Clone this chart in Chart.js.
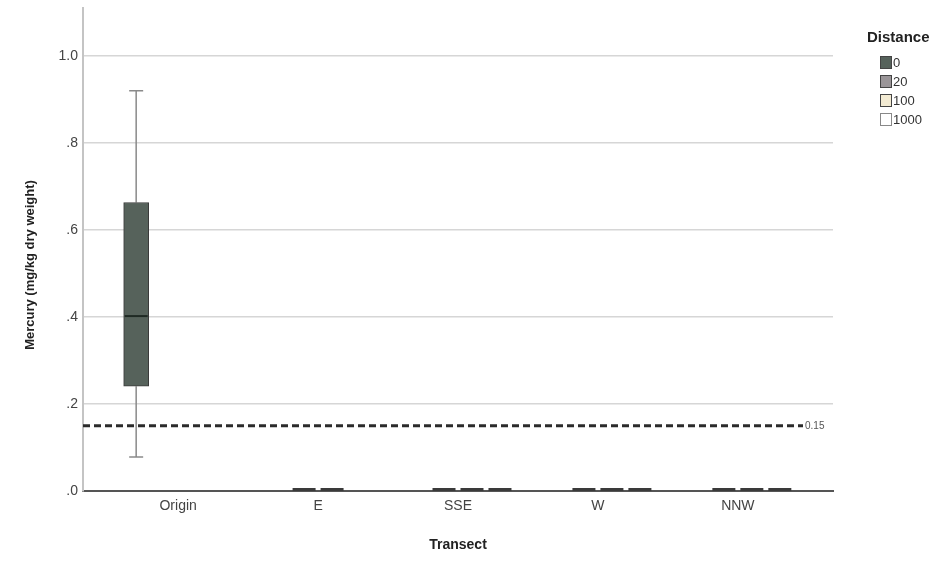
<!DOCTYPE html>
<html>
<head>
<meta charset="utf-8">
<script src="https://cdn.jsdelivr.net/npm/chart.js@4"></script>
<style>
  html, body { margin: 0; padding: 0; background: #fff; }
  #wrap { width: 944px; height: 563px; }
</style>
</head>
<body>
<div id="wrap"><canvas id="boxChart" width="944" height="563"></canvas></div>
<script>
// categories and series
const transects = ['Origin', 'E', 'SSE', 'W', 'NNW'];
const distances = ['0', '20', '100', '1000'];

// box stats per transect: [min, q1, median, q3, max], null = no data
const dist0 = [[0.078, 0.241, 0.402, 0.663, 0.920], null, null, null, null];
const dist20 = [null, [0, 0, 0, 0, 0], [0, 0, 0, 0, 0], [0, 0, 0, 0, 0], [0, 0, 0, 0, 0]];
const dist100 = [null, [0, 0, 0, 0, 0], [0, 0, 0, 0, 0], [0, 0, 0, 0, 0], [0, 0, 0, 0, 0]];
const dist1000 = [null, null, [0, 0, 0, 0, 0], [0, 0, 0, 0, 0], [0, 0, 0, 0, 0]];

// axis ticks and reference line
const yTickValues = [0, 0.2, 0.4, 0.6, 0.8, 1.0];
const yTickLabels = ['.0', '.2', '.4', '.6', '.8', '1.0'];
const refValue = 0.15;
const refLabel = '0.15';

// styling
const fills = ['#56625b', '#9a9598', '#f3ebd3', '#ffffff'];
const slotWidth = 0.2;

Chart.defaults.font.family = "'Liberation Sans', Arial, sans-serif";
Chart.defaults.color = '#444';

const seriesStats = [dist0, dist20, dist100, dist1000];

const datasets = seriesStats.map((stats, d) => ({
  label: distances[d],
  backgroundColor: fills[d],
  borderColor: '#3a3a3a',
  borderWidth: 1,
  borderSkipped: false,
  barThickness: 25,
  grouped: false,
  data: stats
    .map((s, j) => s ? { x: j + (d - 1.5) * slotWidth, y: [s[1], s[3]], stats: s } : null)
    .filter(Boolean)
}));

// whiskers, medians, reference line and legend
const boxExtras = {
  id: 'boxExtras',
  beforeDatasetsDraw(chart) {
    const { ctx, scales: { y } } = chart;
    ctx.save();
    ctx.strokeStyle = '#8a8a8a';
    ctx.lineWidth = 1.5;
    chart.data.datasets.forEach((ds, i) => {
      const meta = chart.getDatasetMeta(i);
      ds.data.forEach((pt, k) => {
        const bar = meta.data[k];
        const s = pt.stats;
        const cx = bar.x;
        const pMin = y.getPixelForValue(s[0]);
        const pQ1 = y.getPixelForValue(s[1]);
        const pQ3 = y.getPixelForValue(s[3]);
        const pMax = y.getPixelForValue(s[4]);
        if (s[4] === s[0]) return;
        ctx.beginPath();
        ctx.moveTo(cx, pQ3); ctx.lineTo(cx, pMax);
        ctx.moveTo(cx, pQ1); ctx.lineTo(cx, pMin);
        ctx.moveTo(cx - 7, pMax); ctx.lineTo(cx + 7, pMax);
        ctx.moveTo(cx - 7, pMin); ctx.lineTo(cx + 7, pMin);
        ctx.stroke();
      });
    });
    ctx.restore();
  },
  afterDatasetsDraw(chart) {
    const { ctx, chartArea, scales: { y } } = chart;
    ctx.save();
    // medians (flat boxes drawn as a thick dash)
    chart.data.datasets.forEach((ds, i) => {
      const meta = chart.getDatasetMeta(i);
      ds.data.forEach((pt, k) => {
        const bar = meta.data[k];
        const s = pt.stats;
        const flat = s[1] === s[3];
        const py = y.getPixelForValue(s[2]) - (flat ? 1.5 : 0);
        ctx.strokeStyle = flat ? '#3a3a3a' : '#1f2a24';
        ctx.lineWidth = flat ? 3 : 2;
        ctx.beginPath();
        ctx.moveTo(bar.x - bar.width / 2 + 1, py);
        ctx.lineTo(bar.x + bar.width / 2 - 1, py);
        ctx.stroke();
      });
    });

    // reference line
    const ry = y.getPixelForValue(refValue);
    ctx.strokeStyle = '#2b2b2b';
    ctx.lineWidth = 3;
    ctx.setLineDash([7, 4]);
    ctx.beginPath();
    ctx.moveTo(chartArea.left, ry);
    ctx.lineTo(chartArea.right - 30, ry);
    ctx.stroke();
    ctx.setLineDash([]);
    ctx.fillStyle = '#555';
    ctx.font = "10px 'Liberation Sans', Arial, sans-serif";
    ctx.textAlign = 'left';
    ctx.textBaseline = 'middle';
    ctx.fillText(refLabel, chartArea.right - 28, ry + 1);
    ctx.restore();
  },
  afterDraw(chart) {
    const { ctx } = chart;
    ctx.save();
    // y axis title
    ctx.translate(30, 265);
    ctx.rotate(-Math.PI / 2);
    ctx.fillStyle = '#222';
    ctx.font = "bold 13px 'Liberation Sans', Arial, sans-serif";
    ctx.textAlign = 'center';
    ctx.textBaseline = 'middle';
    ctx.fillText('Mercury (mg/kg dry weight)', 0, 0);
    ctx.restore();

    // legend
    ctx.save();
    ctx.fillStyle = '#222';
    ctx.font = "bold 15px 'Liberation Sans', Arial, sans-serif";
    ctx.textAlign = 'left';
    ctx.textBaseline = 'middle';
    ctx.fillText('Distance', 867, 38);
    ctx.font = "13px 'Liberation Sans', Arial, sans-serif";
    chart.data.datasets.forEach((ds, i) => {
      const cy = 62.5 + i * 19;
      ctx.fillStyle = ds.backgroundColor;
      ctx.fillRect(880.5, cy - 6, 11, 12);
      ctx.strokeStyle = i === 3 ? '#888' : '#444';
      ctx.lineWidth = 1;
      ctx.strokeRect(880.5, cy - 6, 11, 12);
      ctx.fillStyle = '#333';
      ctx.fillText(ds.label, 893, cy + 1);
    });
    ctx.restore();
  }
};

new Chart(document.getElementById('boxChart'), {
  type: 'bar',
  data: { datasets },
  plugins: [boxExtras],
  options: {
    responsive: false,
    animation: false,
    layout: { padding: { left: 0, right: 111, top: 8, bottom: 0 } },
    plugins: { legend: { display: false }, tooltip: { enabled: false } },
    scales: {
      x: {
        type: 'linear',
        offset: false,
        min: -0.68,
        max: 4.68,
        afterBuildTicks: (scale) => { scale.ticks = transects.map((_, i) => ({ value: i })); },
        afterFit: (scale) => { scale.height = 72; scale.paddingLeft = 0; scale.paddingRight = 0; },
        grid: { display: false, drawTicks: false, offset: false },
        border: { color: '#555', width: 2 },
        ticks: {
          padding: 7,
          color: '#444',
          font: { size: 14 },
          callback: (v) => transects[v]
        },
        title: {
          display: true,
          text: 'Transect',
          color: '#222',
          font: { size: 14, weight: 'bold' },
          padding: { top: 0, bottom: 9 }
        }
      },
      y: {
        min: 0,
        max: 1.11,
        afterBuildTicks: (scale) => { scale.ticks = yTickValues.map(v => ({ value: v })); },
        afterFit: (scale) => { scale.width = 83; scale.paddingTop = 0; scale.paddingBottom = 0; },
        grid: { color: '#d6d6d6', lineWidth: 1.5, drawTicks: false },
        border: { color: '#c4c4c4', width: 2 },
        ticks: {
          padding: 5,
          color: '#444',
          font: { size: 14 },
          callback: (v) => yTickLabels[yTickValues.indexOf(v)]
        }
      }
    }
  }
});
</script>
</body>
</html>
